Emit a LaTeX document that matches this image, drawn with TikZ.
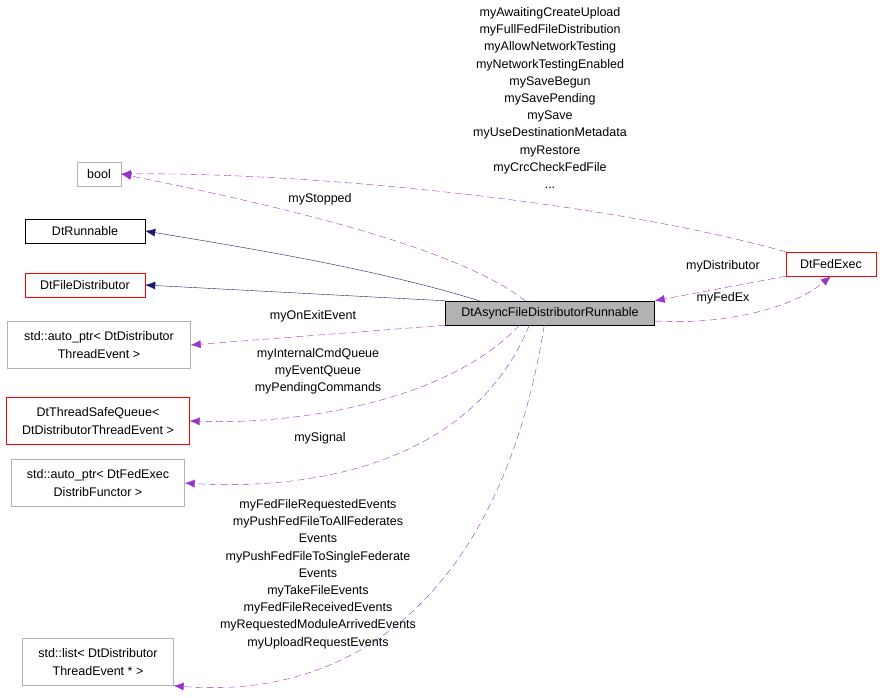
\documentclass[tikz,border=0pt]{standalone}
\usepackage{fontspec}
\setmainfont{Liberation Sans}
\usetikzlibrary{positioning,arrows.meta}
\definecolor{edgeblue}{RGB}{25,25,112}
\definecolor{edgepurple}{RGB}{154,50,205}
\begin{document}
\begin{tikzpicture}[x=1pt,y=-1pt,font=\fontsize{12.5}{17.2}\selectfont,
    cls/.style={draw=black!30,fill=white,align=center,inner sep=2pt,minimum height=24pt},
    twoline/.style={minimum height=47pt},
    redcls/.style={cls,draw=red},
    main/.style={cls,draw=black,fill=black!30},
    inherit/.style={draw=edgeblue,-{Latex[length=10pt,width=8pt]}},
    uses/.style={draw=edgepurple,dash pattern=on 7pt off 4pt,-{Latex[length=10pt,width=8pt]}},
    lbl/.style={align=center,inner sep=0pt}]
    \useasboundingbox (0,0) rectangle (880,698);

    \node[main,minimum width=209pt] (run) at (550,313) {DtAsyncFileDistributorRunnable};
    \node[redcls,minimum width=90pt] (fed) at (831,264) {DtFedExec};
    \node[cls,minimum width=44pt] (bool) at (99,174) {bool};
    \node[cls,draw=black,minimum width=120pt] (runnable) at (85,231) {DtRunnable};
    \node[redcls,minimum width=120pt] (filedist) at (85,285) {DtFileDistributor};
    \node[cls,twoline,minimum width=183pt] (autoev) at (99,345) {std::auto\_ptr< DtDistributor\\ThreadEvent >};
    \node[redcls,twoline,minimum width=183pt] (queue) at (98,421) {DtThreadSafeQueue<\\ DtDistributorThreadEvent >};
    \node[cls,twoline,minimum width=173pt] (autofn) at (98,483) {std::auto\_ptr< DtFedExec\\DistribFunctor >};
    \node[cls,twoline,minimum width=151pt] (list) at (98,662) {std::list< DtDistributor\\ThreadEvent * >};

    % inheritance
    \draw[inherit] (run.north west) ++(34,0) .. controls (380,270) and (260,250) .. (runnable.east);
    \draw[inherit] (run.north west) -- (filedist.east);

    % members
    \draw[uses] (run.north west) ++(80,0) .. controls (460,250) and (300,210) .. (bool.east);
    \node[lbl] (lstopped) at (320,199) {myStopped};
    \draw[uses] (fed.north west) .. controls (600,200) and (300,172) .. (bool.east);
    \node[lbl] (lfed) at (550,98) {myAwaitingCreateUpload\\myFullFedFileDistribution\\myAllowNetworkTesting\\myNetworkTestingEnabled\\mySaveBegun\\mySavePending\\mySave\\myUseDestinationMetadata\\myRestore\\myCrcCheckFedFile\\...};
    \draw[uses] (fed.south west) -- (run.north east);
    \node[lbl] (ldist) at (723,266) {myDistributor};
    \draw[uses] (run.east) ++(0,8) .. controls (720,325) and (790,310) .. (fed.south);
    \node[lbl] (lfedex) at (723,298) {myFedEx};
    \draw[uses] (run.south west) -- (autoev.east);
    \node[lbl] (lexit) at (313,316) {myOnExitEvent};
    \draw[uses] (run.south west) ++(74,0) .. controls (450,400) and (300,425) .. (queue.east);
    \node[lbl] (lqueue) at (318,371) {myInternalCmdQueue\\myEventQueue\\myPendingCommands};
    \draw[uses] (run.south west) ++(84,0) .. controls (470,470) and (300,490) .. (autofn.east);
    \node[lbl] (lsignal) at (320,438) {mySignal};
    \draw[uses] (run.south west) ++(99,0) .. controls (500,600) and (350,700) .. (list.south east);
    \node[lbl] (llist) at (318,574) {myFedFileRequestedEvents\\myPushFedFileToAllFederates\\Events\\myPushFedFileToSingleFederate\\Events\\myTakeFileEvents\\myFedFileReceivedEvents\\myRequestedModuleArrivedEvents\\myUploadRequestEvents};
\end{tikzpicture}
\end{document}
